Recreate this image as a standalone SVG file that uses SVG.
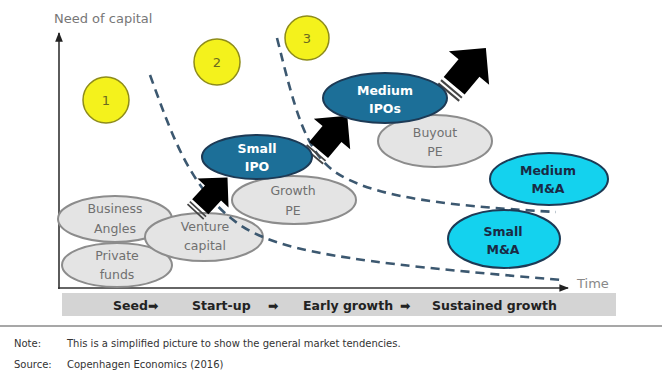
<svg xmlns="http://www.w3.org/2000/svg" width="662" height="374" viewBox="0 0 662 374">
<defs>
<style>
.gray ellipse{fill:#e4e4e4;stroke:#8c8c8c;stroke-width:2}
.gray text{fill:#707070}
.blue ellipse{fill:#1c6f98;stroke:#1d3a55;stroke-width:2}
.blue text{fill:#ffffff;font-weight:bold}
.cyan ellipse{fill:#14d2ee;stroke:#1d3a55;stroke-width:2}
.cyan text{fill:#1a2a45;font-weight:bold}
text{font-family:"DejaVu Sans",Verdana,sans-serif}
.lbl{font-size:12.5px;text-anchor:middle}
.num circle{fill:#f4f21c;stroke:#8e8c1a;stroke-width:1.5}
.num text{fill:#6b6a20;font-size:13px;text-anchor:middle}
.dash{fill:none;stroke:#3c5870;stroke-width:2.6;stroke-dasharray:9 6}
.axis{stroke:#333;stroke-width:1.6;fill:none}
.stripe{stroke:#444;stroke-width:2}
</style>
<marker id="ah" viewBox="0 0 10 10" refX="9" refY="5" markerWidth="6" markerHeight="6" orient="auto">
<path d="M0,1 L10,5 L0,9 z" fill="#222"/>
</marker>
<g id="blk">
<path d="M-22,-13 L0,-13 L0,-25 L25,0 L0,25 L0,13 L-22,13 z" fill="#000"/>
<line class="stripe" x1="-26" y1="-13" x2="-26" y2="13"/>
<line class="stripe" x1="-30" y1="-13" x2="-30" y2="13"/>
</g>
</defs>
<rect width="662" height="374" fill="#fff"/>

<g id="axes">
<line class="axis" x1="59" y1="289" x2="59" y2="33" marker-end="url(#ah)"/>
<line class="axis" x1="58" y1="288" x2="568" y2="288" marker-end="url(#ah)"/>
<text x="54" y="23" font-size="13" fill="#777">Need of capital</text>
<text x="577" y="288" font-size="13" fill="#888">Time</text>
</g>

<g id="circle1" class="num"><circle cx="106" cy="100" r="23"/><text x="106" y="105">1</text></g>
<g id="circle2" class="num"><circle cx="217" cy="62" r="23"/><text x="217" y="67">2</text></g>
<g id="circle3" class="num"><circle cx="307" cy="38" r="22"/><text x="307" y="43">3</text></g>

<g id="business-angles" class="gray"><ellipse cx="115" cy="219" rx="57" ry="23"/><text class="lbl" x="115" y="213">Business</text><text class="lbl" x="115" y="233">Angles</text></g>
<g id="private-funds" class="gray"><ellipse cx="117" cy="265" rx="55" ry="22"/><text class="lbl" x="117" y="260">Private</text><text class="lbl" x="117" y="279">funds</text></g>
<g id="venture-capital" class="gray"><ellipse cx="204" cy="237" rx="59" ry="24"/><text class="lbl" x="205" y="231">Venture</text><text class="lbl" x="205" y="250">capital</text></g>
<g id="growth-pe" class="gray"><ellipse cx="294" cy="200" rx="62" ry="24"/><text class="lbl" x="293" y="195">Growth</text><text class="lbl" x="293" y="215">PE</text></g>
<g id="buyout-pe" class="gray"><ellipse cx="435" cy="141" rx="57" ry="26"/><text class="lbl" x="435" y="137">Buyout</text><text class="lbl" x="435" y="156">PE</text></g>

<g id="curves">
<path class="dash" d="M150,75 C172,135 190,190 240,225 C278,250 340,262 563,280"/>
<path class="dash" d="M277,38 C295,110 305,150 335,172 C370,195 430,205 556,212"/>
</g>

<g id="arrows">
<use href="#blk" transform="translate(213,193) rotate(-47) scale(0.85)"/>
<use href="#blk" transform="translate(332,134) rotate(-50) scale(0.95)"/>
<use href="#blk" transform="translate(469,68) rotate(-50) scale(1.05)"/>
</g>

<g id="small-ipo" class="blue"><ellipse cx="257" cy="157" rx="55" ry="22"/><text class="lbl" x="257" y="153">Small</text><text class="lbl" x="257" y="171">IPO</text></g>
<g id="medium-ipos" class="blue"><ellipse cx="385" cy="98" rx="62" ry="25"/><text class="lbl" x="385" y="95">Medium</text><text class="lbl" x="385" y="113">IPOs</text></g>
<g id="medium-ma" class="cyan"><ellipse cx="549" cy="179" rx="59" ry="26"/><text class="lbl" x="548" y="175">Medium</text><text class="lbl" x="548" y="193">M&amp;A</text></g>
<g id="small-ma" class="cyan"><ellipse cx="504" cy="239" rx="56" ry="29"/><text class="lbl" x="503" y="236">Small</text><text class="lbl" x="503" y="254">M&amp;A</text></g>

<g id="stages">
<rect x="62" y="293" width="554" height="23" fill="#d4d4d4"/>
<text x="113" y="310" font-size="12.5" font-weight="bold" fill="#222">Seed➡</text>
<text x="192" y="310" font-size="12.5" font-weight="bold" fill="#222">Start-up</text>
<text x="268" y="310" font-size="12.5" font-weight="bold" fill="#222">➡</text>
<text x="303" y="310" font-size="12.5" font-weight="bold" fill="#222">Early growth</text>
<text x="400" y="310" font-size="12.5" font-weight="bold" fill="#222">➡</text>
<text x="432" y="310" font-size="12.5" font-weight="bold" fill="#222">Sustained growth</text>
</g>

<line x1="0" y1="326" x2="662" y2="326" stroke="#8a8a8a" stroke-width="1.5"/>
<g id="notes" font-size="10" fill="#333">
<text x="14" y="347">Note:</text>
<text x="67" y="347">This is a simplified picture to show the general market tendencies.</text>
<text x="14" y="368">Source:</text>
<text x="67" y="368">Copenhagen Economics (2016)</text>
</g>
</svg>
